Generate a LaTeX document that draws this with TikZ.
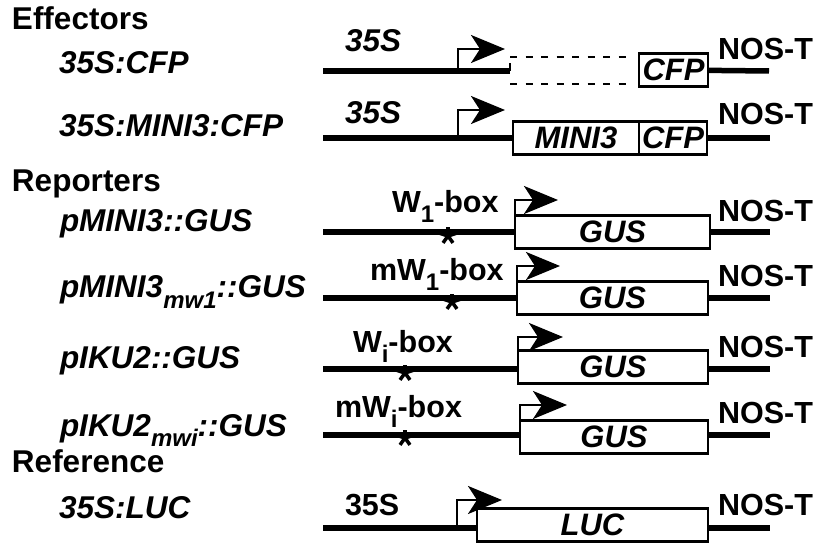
\documentclass[tikz,border=0pt]{standalone}
\usepackage{fontspec}
\setmainfont{Liberation Sans}
\usepackage{tikz}
\usetikzlibrary{arrows.meta}
\newcommand{\dropsub}[1]{\raisebox{-10pt}{\fontsize{24}{24}\selectfont #1}}

\begin{document}
\begin{tikzpicture}[x=1pt, y=-1pt,
  every node/.style={inner sep=0pt, outer sep=0pt},
  head/.style={font=\fontsize{31.5}{36}\selectfont\bfseries, anchor=base west},
  cons/.style={font=\fontsize{31.5}{36}\selectfont\bfseries\itshape, anchor=base west},
  tag/.style={font=\fontsize{30.5}{36}\selectfont\bfseries, anchor=base west},
  gene/.style={draw, line width=2.5pt, minimum height=33pt, anchor=west,
               font=\fontsize{31}{36}\selectfont\bfseries\itshape},
  dna/.style={line width=5.5pt},
  tss/.style={line width=2.5pt, -{Stealth[length=34pt, width=28pt, inset=9pt]}},
  gap/.style={line width=2.5pt, dash pattern=on 7pt off 8.5pt},
  arm/.style={line width=3.5pt}
]
\useasboundingbox (0,0) rectangle (816,545);

% left column
\node[head] (eff) at (12,30) {Effectors};
\node[cons] (l1) at (59,74) {35S:CFP};
\node[cons] (l2) at (59,137) {35S:MINI3:CFP};
\node[head] (rep) at (12,192) {Reporters};
\node[cons] (l3) at (60,232) {pMINI3::GUS};
\node[cons] (l4) at (60,298) {pMINI3\dropsub{mw1}::GUS};
\node[cons] (l5) at (60,368) {pIKU2::GUS};
\node[cons] (l6) at (60,436) {pIKU2\dropsub{mwi}::GUS};
\node[head] (ref) at (12,472) {Reference};
\node[cons] (l7) at (59,518) {35S:LUC};

% 35S:CFP
\coordinate (s1) at (323,71);
\coordinate (d1) at (510,71);
\coordinate (e1) at (769,71);
\coordinate (p1) at (458,71);
\coordinate (a1) at (505,49);
\node[gene, minimum width=69pt] (cfp1) at (639,70) {CFP};
\draw[dna] (s1) -- (d1);
\draw[line width=2.5pt] (d1) -- ++(0,-8);
\draw[gap] (510,57) -- (627,57);
\draw[gap] (510,84) -- (627,84);
\draw[dna] (cfp1) -- (e1);
\draw[tss] (p1) |- (a1);
\node[cons] (pro1) at (345,52) {35S};
\node[tag] (nos1) at (718,60) {NOS-T};

% 35S:MINI3:CFP
\coordinate (s2) at (323,138);
\coordinate (e2) at (770,138);
\coordinate (p2) at (458,138);
\coordinate (a2) at (505,110);
\node[gene, minimum width=126pt] (mini) at (513,138) {MINI3};
\node[gene, minimum width=68pt] (cfp2) at (mini.east) {CFP};
\draw[dna] (s2) -- (mini);
\draw[dna] (cfp2) -- (e2);
\draw[tss] (p2) |- (a2);
\node[cons] (pro2) at (345,124) {35S};
\node[tag] (nos2) at (718,125) {NOS-T};

% pMINI3::GUS
\coordinate (s3) at (323,232);
\coordinate (e3) at (770,232);
\coordinate (a3) at (558,200);
\coordinate (x3) at (448,236);
\node[gene, minimum width=195pt] (gus3) at (515,232) {GUS};
\draw[dna] (s3) -- (gus3);
\draw[dna] (gus3) -- (e3);
\draw[tss] (gus3.north west) |- (a3);
\node[tag] (box3) at (392,213) {W\dropsub{1}-box};
\node[tag] (nos3) at (718,222) {NOS-T};

% pMINI3mw1::GUS
\coordinate (s4) at (323,298);
\coordinate (e4) at (770,298);
\coordinate (a4) at (560,266);
\coordinate (x4) at (452,302);
\node[gene, minimum width=191pt] (gus4) at (517,298) {GUS};
\draw[dna] (s4) -- (gus4);
\draw[dna] (gus4) -- (e4);
\draw[tss] (gus4.north west) |- (a4);
\node[tag] (box4) at (370,280) {mW\dropsub{1}-box};
\node[tag] (nos4) at (718,287) {NOS-T};

% pIKU2::GUS
\coordinate (s5) at (323,369);
\coordinate (e5) at (770,369);
\coordinate (a5) at (563,337);
\coordinate (x5) at (405,373);
\node[gene, minimum width=190pt] (gus5) at (518,367) {GUS};
\draw[dna] (s5) -- (s5 -| gus5.west);
\draw[dna] (e5 -| gus5.east) -- (e5);
\draw[tss] (gus5.north west) |- (a5);
\node[tag] (box5) at (353,352) {W\dropsub{i}-box};
\node[tag] (nos5) at (718,357) {NOS-T};

% pIKU2mwi::GUS
\coordinate (s6) at (323,435);
\coordinate (e6) at (770,435);
\coordinate (a6) at (567,405);
\coordinate (x6) at (405,438);
\node[gene, minimum width=188pt] (gus6) at (520,437) {GUS};
\draw[dna] (s6) -- (s6 -| gus6.west);
\draw[dna] (e6 -| gus6.east) -- (e6);
\draw[tss] (gus6.north west) |- (a6);
\node[tag] (box6) at (335,417) {mW\dropsub{i}-box};
\node[tag] (nos6) at (718,423) {NOS-T};

% binding sites
\foreach \s in {x3,x4,x5,x6}
  \foreach \a in {90,18,162,234,306}
    \draw[arm] (\s) -- ++(\a:8.5pt);

% 35S:LUC
\coordinate (s7) at (323,528);
\coordinate (e7) at (770,528);
\coordinate (p7) at (457,528);
\coordinate (a7) at (502,500);
\node[gene, minimum width=231pt] (luc) at (477,525) {LUC};
\draw[dna] (s7) -- (s7 -| luc.west);
\draw[dna] (e7 -| luc.east) -- (e7);
\draw[tss] (p7) |- (a7);
\node[tag] (pro7) at (345,515) {35S};
\node[tag] (nos7) at (718,515) {NOS-T};
\end{tikzpicture}
\end{document}
